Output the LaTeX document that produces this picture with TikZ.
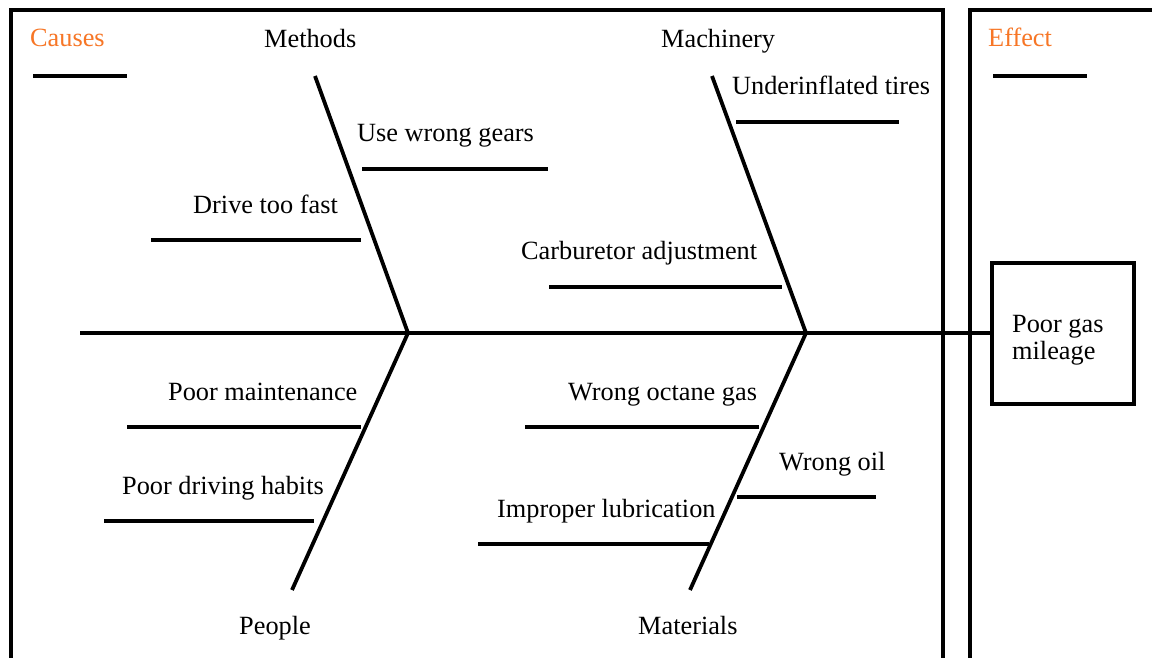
\documentclass[tikz,border=0pt]{standalone}
\usepackage{fontspec}
\setmainfont{Liberation Serif}
\newfontfamily\labelfont{Liberation Serif}
\definecolor{headorange}{RGB}{247,118,38}
\begin{document}
\begin{tikzpicture}[x=1pt,y=-1pt,
  frame/.style={line width=4pt},
  bone/.style={line width=3.8pt},
  twig/.style={line width=4.6pt},
  lbl/.style={inner sep=0pt,anchor=base west,font=\labelfont\fontsize{26.3}{30}\selectfont},
  head/.style={lbl,text=headorange}]
\useasboundingbox (0,0) rectangle (1152,658);
\fill[white] (0,0) rectangle (1152,658);

% outer frames (open at the bottom)
\coordinate (cbl) at (11,662);
\coordinate (ctl) at (11,10);
\coordinate (ctr) at (943,10);
\coordinate (cbr) at (943,662);
\draw[frame] (cbl) -- (ctl) -- (ctr) -- (cbr);
\coordinate (ebl) at (970,662);
\coordinate (etl) at (970,10);
\coordinate (etr) at (1156,10);
\draw[frame] (ebl) -- (etl) -- (etr);

% column headings
\node[head] (causes) at (30,47) {Causes};
\coordinate (cu1) at (33,76); \coordinate (cu2) at (127,76);
\draw[twig] (cu1) -- (cu2);
\node[head] (effect) at (988,47) {Effect};
\coordinate (ef1) at (993,76); \coordinate (ef2) at (1087,76);
\draw[twig] (ef1) -- (ef2);

% effect box
\node[draw,line width=4pt,minimum width=142pt,minimum height=141pt,inner sep=0pt]
  (result) at (1063,333) {};
\node[lbl] (resulttxt1) at (1012,332) {Poor gas};
\node[lbl] (resulttxt2) at (1012,359) {mileage};

% spine
\coordinate (tail) at (80,333);
\coordinate (j1) at (408,333);
\coordinate (j2) at (806,333);
\draw[bone] (tail) -- (j1) -- (j2) -- (result.west);

% main bones
\coordinate (mtop) at (315,76);
\coordinate (mctop) at (712,76);
\coordinate (pbot) at (292,590);
\coordinate (mabot) at (690,590);
\draw[bone] (mtop) -- (j1) -- (pbot);
\draw[bone] (mctop) -- (j2) -- (mabot);

% category labels
\node[lbl] (methods) at (264,48) {Methods};
\node[lbl] (machinery) at (661,48) {Machinery};
\node[lbl] (people) at (239,634) {People};
\node[lbl] (materials) at (638,634) {Materials};

% Methods causes
\node[lbl] (c1) at (357,142) {Use wrong gears};
\coordinate (c1a) at (362,169); \coordinate (c1b) at (548,169);
\draw[twig] (c1a) -- (c1b);
\node[lbl] (c2) at (193,213) {Drive too fast};
\coordinate (c2a) at (151,240); \coordinate (c2b) at (361,240);
\draw[twig] (c2a) -- (c2b);

% Machinery causes
\node[lbl] (c3) at (732,95) {Underinflated tires};
\coordinate (c3a) at (736,122); \coordinate (c3b) at (899,122);
\draw[twig] (c3a) -- (c3b);
\node[lbl] (c4) at (521,259) {Carburetor adjustment};
\coordinate (c4a) at (549,287); \coordinate (c4b) at (782,287);
\draw[twig] (c4a) -- (c4b);

% People causes
\node[lbl] (c5) at (168,400) {Poor maintenance};
\coordinate (c5a) at (127,427); \coordinate (c5b) at (361,427);
\draw[twig] (c5a) -- (c5b);
\node[lbl] (c6) at (122,494) {Poor driving habits};
\coordinate (c6a) at (104,521); \coordinate (c6b) at (314,521);
\draw[twig] (c6a) -- (c6b);

% Materials causes
\node[lbl] (c7) at (568,400) {Wrong octane gas};
\coordinate (c7a) at (525,427); \coordinate (c7b) at (759,427);
\draw[twig] (c7a) -- (c7b);
\node[lbl] (c8) at (779,470) {Wrong oil};
\coordinate (c8a) at (737,497); \coordinate (c8b) at (876,497);
\draw[twig] (c8a) -- (c8b);
\node[lbl] (c9) at (497,517) {Improper lubrication};
\coordinate (c9a) at (478,544); \coordinate (c9b) at (709,544);
\draw[twig] (c9a) -- (c9b);
\end{tikzpicture}
\end{document}
